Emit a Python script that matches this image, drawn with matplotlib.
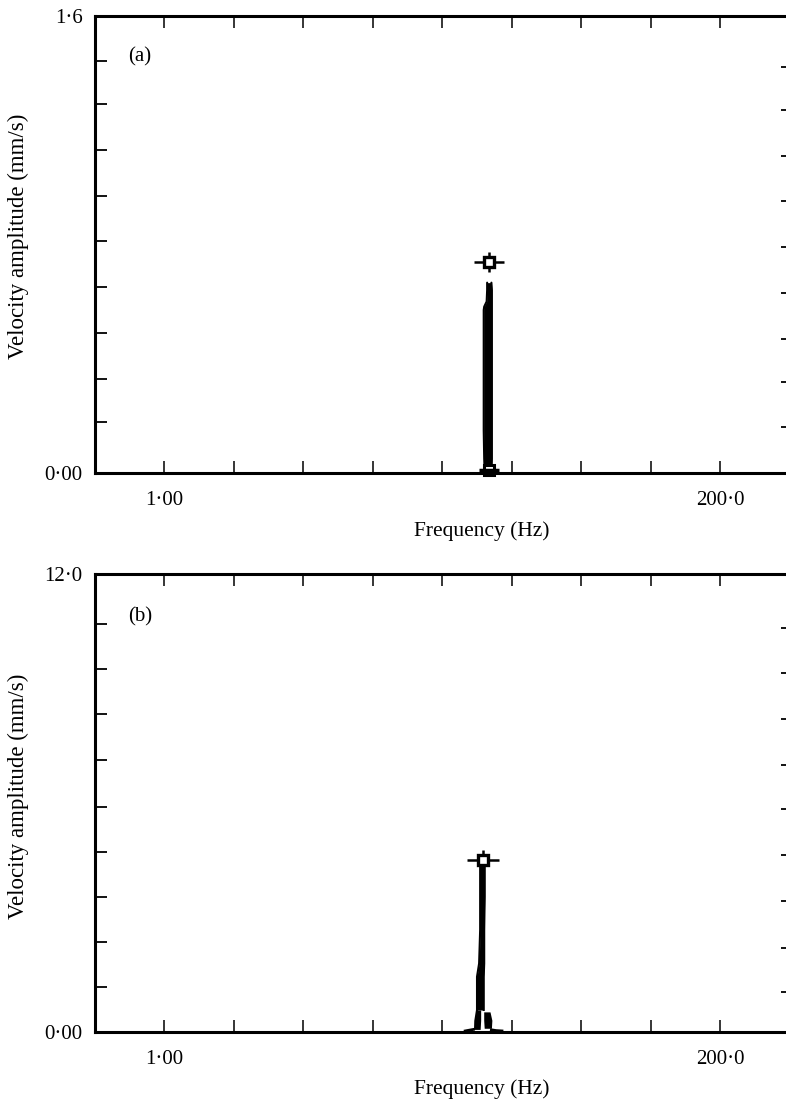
import matplotlib
matplotlib.use("Agg")
import matplotlib.pyplot as plt
from matplotlib.ticker import FixedLocator, NullFormatter

# ---------------- data ----------------
x_major_ticks = [1.0, 200.0]
x_major_labels = ["1·00", "200·0"]
x_minor_ticks = [1.939, 3.761, 7.293, 14.14, 27.42, 53.18, 103.1]

# panel (a)
a_ylim = (0.0, 1.6)
a_ylabels = ["0·00", "1·6"]
a_left_ticks = [0.18, 0.33, 0.49, 0.65, 0.81, 0.97, 1.13, 1.29, 1.44]
a_right_ticks = [0.16, 0.32, 0.47, 0.63, 0.79, 0.95, 1.11, 1.27, 1.42]
a_amp = [0.666, 0.64, 0.60, 0.582, 0.57, 0.45, 0.30, 0.15, 0.05, 0.0]
a_left = [21.7, 21.7, 21.6, 21.1, 21.0, 21.0, 21.0, 21.0, 21.1, 21.2]
a_right = [22.6, 22.7, 22.7, 22.7, 22.7, 22.7, 22.7, 22.7, 22.7, 22.6]
a_peak = (22.1, 0.738)
a_base = (22.0, 0.012)

# panel (b)
b_ylim = (0.0, 12.0)
b_ylabels = ["0·00", "12·0"]
b_left_ticks = [1.18, 2.35, 3.53, 4.71, 5.90, 7.12, 8.32, 9.50, 10.69]
b_right_ticks = [1.03, 2.20, 3.43, 4.63, 5.83, 6.99, 8.19, 9.40, 10.58]
b_amp = [4.42, 3.54, 2.67, 1.79, 1.44, 1.0, 0.57]
b_left = [20.3, 20.3, 20.3, 20.1, 19.7, 19.7, 19.7]
b_right = [21.2, 21.2, 21.1, 21.1, 21.0, 21.0, 21.0]
b_leg1_amp = [0.57, 0.30, 0.06]
b_leg1_left = [19.4, 19.1, 19.05]
b_leg1_right = [20.4, 20.4, 20.3]
b_leg2_amp = [0.52, 0.30, 0.09]
b_leg2_left = [21.0, 21.0, 21.1]
b_leg2_right = [22.3, 22.7, 22.6]
b_tail_left_f = [17.6, 18.3, 19.05]
b_tail_left_a = [0.02, 0.04, 0.06]
b_tail_right_f = [22.6, 23.6, 25.0]
b_tail_right_a = [0.05, 0.03, 0.02]
b_peak = (20.8, 4.50)

# ---------------- figure ----------------
plt.rcParams['font.family'] = ['Liberation Serif', 'DejaVu Serif']
TICK_FS = 15
LABEL_FS = 15.5
YLABEL_FS = 16.5
W, H = 786, 1102
fig = plt.figure(figsize=(W / 100, H / 100), dpi=100)

left_px, right_px = 95, 793
xlim = (0.5157, 401.0)


def setup(ax, ylim, ylabels, lticks, rticks):
    ax.set_xscale('log')
    ax.set_xlim(*xlim)
    ax.set_ylim(*ylim)
    for s in ['left', 'bottom', 'top']:
        ax.spines[s].set_linewidth(2.2)
    ax.spines['right'].set_visible(False)
    ax.xaxis.set_major_locator(FixedLocator(x_major_ticks))
    ax.set_xticklabels(x_major_labels)
    ax.xaxis.set_minor_locator(FixedLocator(x_minor_ticks))
    ax.xaxis.set_minor_formatter(NullFormatter())
    ax.tick_params(axis='x', which='both', direction='in', length=8.5, width=1.1,
                   top=True, bottom=True, labelsize=TICK_FS, pad=13)
    ax.set_yticks([ylim[0], ylim[1]])
    ax.set_yticklabels(ylabels)
    ax.yaxis.set_minor_locator(FixedLocator(lticks))
    ax.tick_params(axis='y', which='major', length=0, labelsize=TICK_FS, pad=9)
    ax.tick_params(axis='y', which='minor', direction='in', length=8.5, width=1.3)
    ax2 = ax.twinx()
    ax2.set_ylim(*ylim)
    ax2.set_yticks(rticks)
    ax2.set_yticklabels([])
    for s in ax2.spines.values():
        s.set_visible(False)
    ax2.tick_params(axis='y', direction='in', length=8.5, width=1.3)


def px_text(x, y, s, fs, **kw):
    fig.text(x / W, 1 - y / H, s, fontsize=fs, ha='center', va='center', **kw)


def draw_peak(ax, p, hlen, vlen):
    ax.plot([p[0]], [p[1]], marker='_', markersize=hlen, mew=1.8, color='black')
    ax.plot([p[0]], [p[1]], marker='|', markersize=vlen, mew=1.8, color='black')
    ax.plot([p[0]], [p[1]], marker='s', markersize=6.5, mew=2.4, mfc='white',
            mec='black')


# panel (a)
axa = fig.add_axes([left_px / W, 1 - 473 / H, (right_px - left_px) / W, (473 - 15.7) / H])
setup(axa, a_ylim, a_ylabels, a_left_ticks, a_right_ticks)
axa.fill_betweenx(a_amp, a_left, a_right, color='black', lw=0)
axa.plot(a_left, a_amp, color='black', lw=1.5, solid_capstyle='round')
axa.plot(a_right, a_amp, color='black', lw=1.5, solid_capstyle='round')
draw_peak(axa, a_peak, 21.5, 14)
axa.plot([a_base[0]], [a_base[1]], marker='s', markersize=6.5, mew=2.2, mfc='white',
         mec='black', clip_on=False)
axa.plot([a_base[0]], [a_base[1]], marker='_', markersize=14, mew=2.5, color='black',
         clip_on=False)

# panel (b)
axb = fig.add_axes([left_px / W, 1 - 1031.7 / H, (right_px - left_px) / W, (1031.7 - 574) / H])
setup(axb, b_ylim, b_ylabels, b_left_ticks, b_right_ticks)
axb.fill_betweenx(b_amp, b_left, b_right, color='black', lw=0)
axb.plot(b_left, b_amp, color='black', lw=1.5)
axb.plot(b_right, b_amp, color='black', lw=1.5)
axb.fill_betweenx(b_leg1_amp, b_leg1_left, b_leg1_right, color='black', lw=0)
axb.fill_betweenx(b_leg2_amp, b_leg2_left, b_leg2_right, color='black', lw=0)
axb.plot(b_tail_left_f, b_tail_left_a, color='black', lw=2.0, clip_on=False)
axb.plot(b_tail_right_f, b_tail_right_a, color='black', lw=2.0, clip_on=False)
draw_peak(axb, b_peak, 23, 14)

# texts
px_text(140, 56.5, "(a)", TICK_FS)
px_text(140, 616.5, "(b)", TICK_FS)
px_text(482, 531, "Frequency (Hz)", LABEL_FS)
px_text(482, 1089, "Frequency (Hz)", LABEL_FS)
px_text(18, 236, "Velocity amplitude (mm/s)", YLABEL_FS, rotation=90)
px_text(18, 796, "Velocity amplitude (mm/s)", YLABEL_FS, rotation=90)

fig.savefig("out.png", dpi=100)
